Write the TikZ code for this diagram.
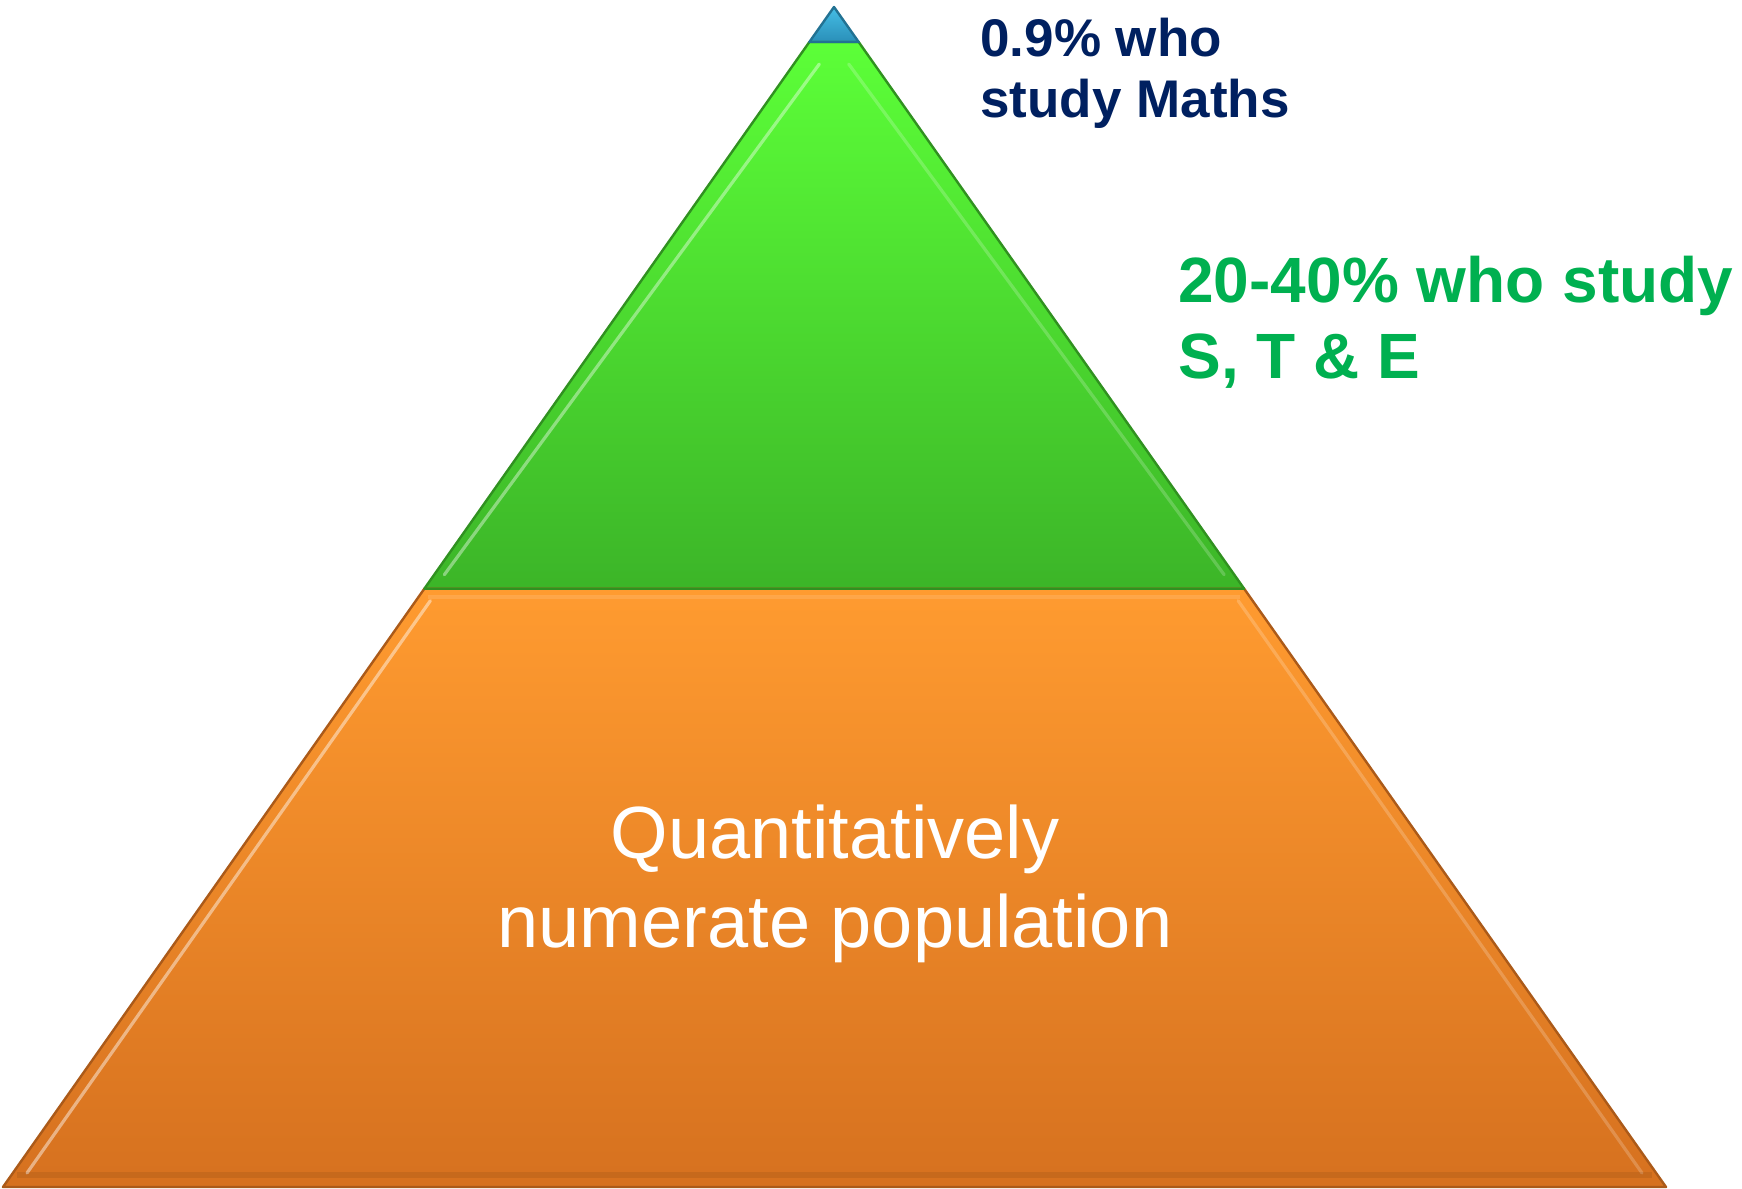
\documentclass[tikz,border=0pt]{standalone}
\usepackage{fontspec}
\setmainfont{Liberation Sans}
\usetikzlibrary{calc}

\definecolor{tipblue}{HTML}{45BEE6}
\definecolor{tipblue_dark}{HTML}{2A8FB8}
\definecolor{stegreen_top}{HTML}{5CFF38}
\definecolor{stegreen_bot}{HTML}{3CB528}
\definecolor{popor_top}{HTML}{FF9B30}
\definecolor{popor_bot}{HTML}{D6711F}
\definecolor{mathsblue}{HTML}{002060}
\definecolor{stetext}{HTML}{00B050}

\begin{document}
\begin{tikzpicture}[
    x=0.5pt, y=-0.5pt,
    layer/.style={draw, line width=1.2pt, line join=round},
    bevel/.style={line width=1.6pt, white, line cap=round, line join=round},
    label_maths/.style={anchor=base west, inner sep=0pt, align=left, text=mathsblue,
        font=\fontsize{26.5}{30.5}\selectfont\bfseries},
    label_ste/.style={anchor=base west, inner sep=0pt, align=left, text=stetext,
        font=\fontsize{32}{38}\selectfont\bfseries},
    label_pop/.style={anchor=base, inner sep=0pt, align=center, text=white,
        font=\fontsize{37}{44.5}\selectfont}
]
\useasboundingbox (0,0) rectangle (1742,1189);

% Corners of the pyramid
\coordinate (apex) at (834,7);
\coordinate (bl) at (3,1187);
\coordinate (br) at (1666,1187);
\coordinate (tipL) at ($(apex)!0.0297!(bl)$);
\coordinate (tipR) at ($(apex)!0.0297!(br)$);
\coordinate (midL) at ($(apex)!0.493!(bl)$);
\coordinate (midR) at ($(apex)!0.493!(br)$);

% Layers
\shade[top color=popor_top, bottom color=popor_bot] (midL) -- (midR) -- (br) -- (bl) -- cycle;
\shade[top color=stegreen_top, bottom color=stegreen_bot] (tipL) -- (tipR) -- (midR) -- (midL) -- cycle;
\shade[top color=tipblue, bottom color=tipblue_dark] (apex) -- (tipR) -- (tipL) -- cycle;

% Bevel highlights
\draw[bevel, opacity=0.4] ($(tipL)+(10,22)$) -- ($(midL)+(20,-14)$);
\draw[bevel, opacity=0.2] ($(tipR)+(-10,22)$) -- ($(midR)+(-20,-14)$);
\draw[bevel, opacity=0.45] ($(midL)+(6,12)$) -- ($(bl)+(24,-14)$);
\draw[bevel, opacity=0.2] ($(midR)+(-6,12)$) -- ($(br)+(-24,-14)$);
\draw[line width=3pt, black, opacity=0.08] ($(bl)+(14,-12)$) -- ($(br)+(-14,-12)$);
\draw[line width=2pt, white, opacity=0.12] ($(midL)+(4,8)$) -- ($(midR)+(-4,8)$);

% Outlines
\draw[layer, draw=popor_bot!80!black] (midL) -- (midR) -- (br) -- (bl) -- cycle;
\draw[layer, draw=stegreen_bot!80!black] (tipL) -- (tipR) -- (midR) -- (midL) -- cycle;
\draw[layer, draw=tipblue_dark!80!black] (apex) -- (tipR) -- (tipL) -- cycle;

% Labels
\node[label_maths] (maths) at (980,117) {0.9\% who\\study Maths};
\node[label_ste] (ste) at (1178,378) {20-40\% who study\\S, T \& E};
\node[label_pop] (pop) at (835,947) {Quantitatively\\numerate population};

\end{tikzpicture}
\end{document}
